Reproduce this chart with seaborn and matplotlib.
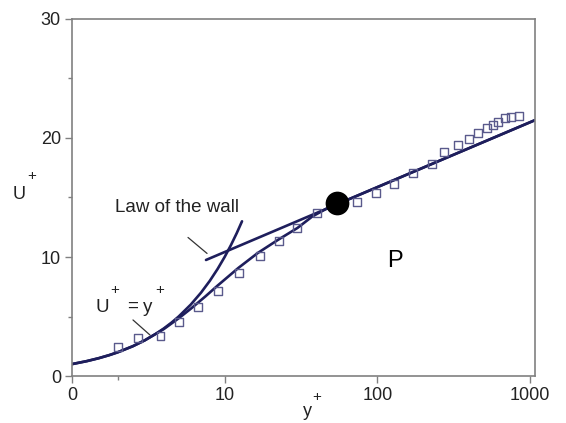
import matplotlib
matplotlib.use("Agg")
import matplotlib.pyplot as plt
from matplotlib.ticker import FixedLocator, NullFormatter
import pandas as pd
import seaborn as sns

# Measured velocity profile (wall units)
yplus_meas = [2.0, 2.7, 3.8, 5.0, 6.7, 9.0, 12.4, 17.0, 22.7, 29.8, 40.3,
              73.7, 98.0, 129.0, 172.0, 229.0, 274.0, 338.0, 400.0, 458.0,
              524.0, 575.0, 619.0, 688.0, 754.0, 849.0]
uplus_meas = [2.44, 3.19, 3.36, 4.54, 5.80, 7.14, 8.66, 10.08, 11.34, 12.44,
              13.70, 14.62, 15.38, 16.13, 17.06, 17.82, 18.82, 19.41, 19.92,
              20.42, 20.84, 21.09, 21.34, 21.68, 21.76, 21.85]

# Viscous sublayer: U+ = y+
yplus_visc = [1, 1.25, 1.5, 1.75, 2, 2.5, 3, 3.5, 4, 4.5, 5, 6, 7, 8, 9,
              10, 11, 12, 13]
uplus_visc = list(yplus_visc)

# Log-law line
yplus_log = [7.55, 1080.0]
uplus_log = [9.75, 21.5]

# Composite wall profile
yplus_comp = [1, 1.25, 1.5, 1.75, 2, 2.5, 3, 4, 5, 6, 7.5, 9, 12.3, 16.5,
              22.3, 30.0, 37.5, 46.0, 1080.0]
uplus_comp = [1, 1.25, 1.5, 1.75, 2, 2.5, 3, 3.95, 4.85, 5.65, 6.7, 7.6,
              9.08, 10.34, 11.43, 12.44, 13.40, 14.03, 21.5]

# Point P
yplus_p = [54.5]
uplus_p = [14.5]

x_ticks = [1, 10, 100, 1000]
x_tick_labels = ["0", "10", "100", "1000"]
y_ticks = [0, 10, 20, 30]

sns.set_theme(style="white")
plt.rcParams["font.family"] = ["Liberation Sans", "DejaVu Sans"]

line_color = "#1e1e5c"
axis_color = "#808080"
text_color = "#222222"

fig = plt.figure(figsize=(5.66, 4.23), dpi=100)
ax = fig.add_axes([0.1272, 0.1111, 0.818, 0.844])

sns.lineplot(x=yplus_visc, y=uplus_visc, ax=ax, color=line_color,
             linewidth=1.9, estimator=None, sort=False)
sns.lineplot(x=yplus_log, y=uplus_log, ax=ax, color=line_color,
             linewidth=1.9, estimator=None, sort=False)
sns.lineplot(x=yplus_comp, y=uplus_comp, ax=ax, color=line_color,
             linewidth=1.9, estimator=None, sort=False)

meas = pd.DataFrame({"yplus": yplus_meas, "uplus": uplus_meas})
sns.scatterplot(data=meas, x="yplus", y="uplus", ax=ax, marker="s", s=32,
                facecolor="none", edgecolor="#5a5a8c", linewidth=1.0, zorder=3)
sns.scatterplot(x=yplus_p, y=uplus_p, ax=ax, color="black", s=250,
                edgecolor="black", zorder=4)

ax.set_xscale("log")
ax.set_xlim(1, 1080)
ax.set_ylim(0, 30)

ax.xaxis.set_major_locator(FixedLocator(x_ticks))
ax.set_xticklabels(x_tick_labels)
ax.xaxis.set_minor_locator(FixedLocator([2]))
ax.xaxis.set_minor_formatter(NullFormatter())
ax.set_yticks(y_ticks)
ax.yaxis.set_minor_locator(FixedLocator([5, 15, 25]))

ax.tick_params(axis="both", which="major", direction="out", length=5,
               width=1, color=axis_color, labelsize=13, labelcolor=text_color,
               pad=3)
ax.tick_params(axis="both", which="minor", direction="out", length=3,
               width=1, color=axis_color)
ax.tick_params(axis="x", which="both", bottom=True)
ax.tick_params(axis="y", which="both", left=True)

for side in ["left", "right", "top", "bottom"]:
    ax.spines[side].set_visible(True)
    ax.spines[side].set_color(axis_color)
    ax.spines[side].set_linewidth(1.2)

ax.set_xlabel("")
ax.set_ylabel("")


def put(fx, fy, s, size=13.5, va="baseline", ha="center"):
    ax.text(fx, fy, s, transform=ax.transAxes, fontsize=size,
            color=text_color, ha=ha, va=va, clip_on=False)


# Axis titles: U+ (vertical) and y+ (horizontal), with raised plus signs
put(-0.1145, 0.496, "U", size=13)
put(-0.0864, 0.560, "+", size=11, va="center")
put(0.508, -0.112, "y", size=13)
put(0.529, -0.059, "+", size=11, va="center")

# "Law of the wall" label with its leader line
ax.text(0.093, 0.471, "Law of the wall", transform=ax.transAxes,
        fontsize=13.5, color=text_color, ha="left", va="center")
ax.annotate("", xy=(7.67, 10.3), xytext=(-13.7, 11.5),
            textcoords="offset points",
            arrowprops=dict(arrowstyle="-", color="#333333", lw=0.9,
                            shrinkA=0, shrinkB=0))

# "U+ = y+" label with its leader line
put(0.0659, 0.179, "U")
put(0.0929, 0.241, "+", size=11, va="center")
put(0.1307, 0.182, "=")
put(0.1640, 0.179, "y")
put(0.1890, 0.241, "+", size=11, va="center")
ax.annotate("", xy=(3.24, 3.45), xytext=(-12.2, 10.8),
            textcoords="offset points",
            arrowprops=dict(arrowstyle="-", color="#333333", lw=0.9,
                            shrinkA=0, shrinkB=0))

ax.text(0.698, 0.322, "P", transform=ax.transAxes, fontsize=17,
        color="black", ha="center", va="center")

fig.savefig("out.png", dpi=100)
